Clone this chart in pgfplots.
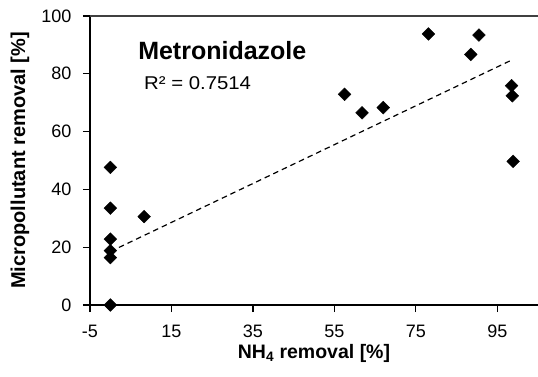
\documentclass[border=0pt]{standalone}
\usepackage{fontspec}
\setmainfont{Liberation Sans}
\usepackage{pgfplots}
\pgfplotsset{compat=1.18}
\begin{document}
\begin{tikzpicture}
\useasboundingbox (0,0) rectangle (538pt,376pt);
\begin{axis}[
  at={(90pt,71pt)}, anchor=south west,
  scale only axis, width=448pt, height=289pt,
  xmin=-5, xmax=105, ymin=0, ymax=100,
  xtick={-5,15,35,55,75,95}, xticklabels={-5,15,35,55,75,95},
  ytick={0,20,40,60,80,100}, yticklabels={0,20,40,60,80,100},
  axis x line*=bottom, axis y line*=left,
  axis line style={-, line width=1.6pt, black},
  tick align=outside, major tick length=7pt,
  tick style={line width=1.2pt, black},
  ticklabel style={font=\fontsize{18}{20}\selectfont},
  yticklabel style={anchor=east, inner sep=0pt, xshift=-11.5pt},
  xticklabel style={anchor=center, inner sep=0pt, yshift=-19.7pt},
  xlabel={\textbf{NH\textsubscript{4} removal [\%]}},
  ylabel={\textbf{Micropollutant removal [\%]}},
  xlabel style={at={(axis description cs:0.5,-0.1661)}, anchor=center, font=\fontsize{19.5}{21}\selectfont},
  ylabel style={at={(axis description cs:-0.15625,0.5)}, anchor=center, font=\fontsize{20}{22}\selectfont},
  clip=false,
]
\draw[line width=1.5pt, black!75] (rel axis cs:0,1) -- (rel axis cs:1,1);
\addplot[black, line width=1.2pt, dash pattern=on 5.5pt off 4pt, forget plot] coordinates {(0,18.5) (98.9,85.0)};
\addplot[only marks, mark=square*, mark size=4.5pt, mark options={rotate=45, fill=black, draw=black}] coordinates {
(0,47.6) (0,33.5) (0,22.8) (0,18.8) (0,16.4) (0,0)
(8.3,30.6) (57.5,72.9) (61.8,66.5) (67.0,68.3) (78.1,93.8)
(88.5,86.7) (90.5,93.4) (98.5,75.9) (98.7,72.4) (98.9,49.7)
};
\node[anchor=base west, inner sep=0pt, font=\bfseries\fontsize{25}{27}\selectfont] at (axis cs:6.8,84.8) {Metronidazole};
\node[anchor=base west, inner sep=0pt, xscale=1.1, font=\fontsize{18.5}{20}\selectfont] at (axis cs:8.25,74.4) {R² = 0.7514};
\end{axis}
\end{tikzpicture}
\end{document}
